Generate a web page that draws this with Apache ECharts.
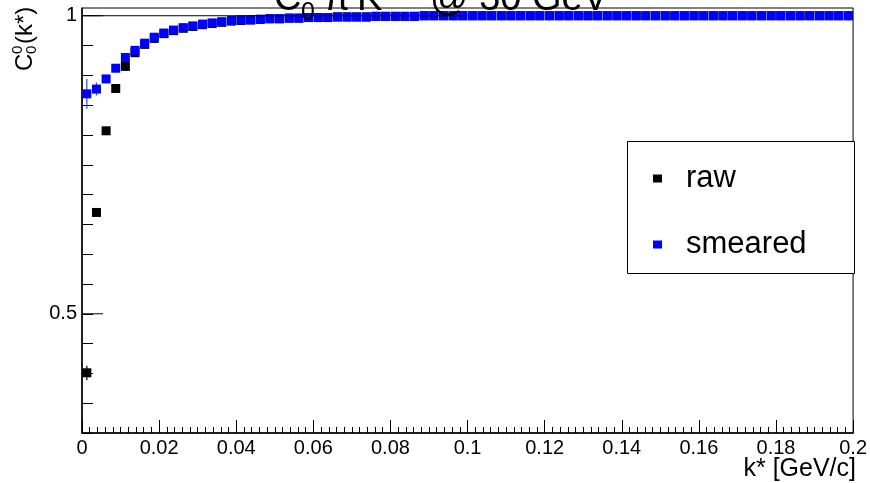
<!DOCTYPE html>
<html>
<head>
<meta charset="utf-8">
<script src="https://cdn.jsdelivr.net/npm/echarts@6/dist/echarts.min.js"></script>
<style>
html,body{margin:0;padding:0;background:#fff;}
#chart{width:870px;height:483px;}
</style>
</head>
<body>
<div id="chart"></div>
<script>
// k* bins: 80 bins of 0.0025 GeV/c from 0 to 0.2
var binWidth = 0.0025;
var rawVals = [
    0.401, 0.670, 0.807, 0.878, 0.915, 0.938, 0.952, 0.962, 0.970, 0.975,
    0.979, 0.982, 0.985, 0.987, 0.989, 0.991, 0.992, 0.993, 0.994, 0.995,
    0.995, 0.996, 0.996, 0.997, 0.997, 0.997, 0.998, 0.998, 0.998, 0.998,
    0.999, 0.999, 0.999, 0.999, 0.999, 1.000, 1.000, 1.000, 1.000, 1.000,
    1.000, 1.000, 1.000, 1.000, 1.000, 1.000, 1.000, 1.000, 1.000, 1.000,
    1.000, 1.000, 1.000, 1.000, 1.000, 1.000, 1.000, 1.000, 1.000, 1.000,
    1.000, 1.000, 1.000, 1.000, 1.000, 1.000, 1.000, 1.000, 1.000, 1.000,
    1.000, 1.000, 1.000, 1.000, 1.000, 1.000, 1.000, 1.000, 1.000, 1.000
];
var smearedVals = [
    0.869, 0.877, 0.894, 0.912, 0.930, 0.942, 0.954, 0.964, 0.971, 0.976,
    0.980, 0.983, 0.986, 0.988, 0.990, 0.992, 0.993, 0.993, 0.994, 0.995,
    0.995, 0.996, 0.996, 0.997, 0.997, 0.997, 0.998, 0.998, 0.998, 0.998,
    0.999, 0.999, 0.999, 0.999, 0.999, 1.000, 1.000, 1.000, 1.000, 1.000,
    1.000, 1.000, 1.000, 1.000, 1.000, 1.000, 1.000, 1.000, 1.000, 1.000,
    1.000, 1.000, 1.000, 1.000, 1.000, 1.000, 1.000, 1.000, 1.000, 1.000,
    1.000, 1.000, 1.000, 1.000, 1.000, 1.000, 1.000, 1.000, 1.000, 1.000,
    1.000, 1.000, 1.000, 1.000, 1.000, 1.000, 1.000, 1.000, 1.000, 1.000
];
// y errors, only the first bins are big enough to see
var rawErr = [0.012, 0.006, 0.004];
var smearedErr = [0.025, 0.011, 0.005];
// line at C=1 over the first half of the range
var refLine = [[0, 1], [0.1, 1]];
// y values with long ticks and labels
var yMajor = [0.5, 1];
var yMajorLabels = ['0.5', '1'];

var FONT = 'Liberation Sans';

function toPoints(vals) {
    return vals.map(function (v, i) { return [binWidth * (i + 0.5), v]; });
}
function toErrors(vals, errs) {
    return errs.map(function (e, i) { return [binWidth * (i + 0.5), vals[i], e]; });
}
function errRender(color) {
    return function (params, api) {
        var x = api.value(0), y = api.value(1), e = api.value(2);
        var lo = api.coord([x, y - e]), hi = api.coord([x, y + e]);
        return {
            type: 'line',
            shape: { x1: lo[0], y1: lo[1], x2: hi[0], y2: hi[1] },
            style: { stroke: color, lineWidth: 1.2 }
        };
    };
}
function txt(x, y, s, size, extra) {
    var st = { text: s, font: size + 'px ' + FONT, fill: '#000', verticalAlign: 'middle' };
    for (var k in extra || {}) st[k] = extra[k];
    return { type: 'text', x: x, y: y, z: 10, style: st };
}

var chart = echarts.init(document.getElementById('chart'));

var option = {
    animation: false,
    backgroundColor: '#fff',
    textStyle: { fontFamily: FONT },
    grid: {
        left: 82, right: 15, top: 8, bottom: 50,
        show: true, borderColor: '#000', borderWidth: 1
    },
    legend: {
        orient: 'vertical',
        left: 648, top: 158,
        z: 10,
        selectedMode: false,
        itemWidth: 9, itemHeight: 8,
        itemGap: 35,
        data: [{ name: 'raw', icon: 'rect' }, { name: 'smeared', icon: 'rect' }],
        textStyle: { fontSize: 31, lineHeight: 31, color: '#000', fontFamily: FONT, padding: [0, 0, 0, 19] }
    },
    xAxis: {
        type: 'value',
        min: 0, max: 0.2, interval: 0.02,
        axisLine: { lineStyle: { color: '#000', width: 1.5 } },
        axisTick: { inside: true, length: 13, lineStyle: { color: '#000' } },
        minorTick: { show: true, splitNumber: 10, length: 6, lineStyle: { color: '#000' } },
        splitLine: { show: false },
        axisLabel: { fontSize: 20, color: '#000', margin: 5, fontFamily: FONT }
    },
    yAxis: {
        type: 'value',
        min: 0.3, max: 1.013, interval: 0.05,
        axisLine: { show: true, lineStyle: { color: '#000', width: 1.5 } },
        axisTick: { show: true, inside: true, length: 11, lineStyle: { color: '#000' } },
        splitLine: { show: false },
        axisLabel: {
            fontSize: 20, color: '#000', margin: 5, fontFamily: FONT,
            showMaxLabel: false,
            formatter: function (v) {
                for (var i = 0; i < yMajor.length; i++) {
                    if (Math.abs(v - yMajor[i]) < 1e-6) return yMajorLabels[i];
                }
                return '';
            }
        }
    },
    graphic: [
        // title, clipped at the top of the canvas
        txt(274, 0, 'C', 38),
        txt(301, 13, '0', 25),
        txt(324, 0, 'π', 38),
        txt(346, -40, '−', 25),
        txt(357, 0, 'K', 38),
        txt(384, -40, '+', 25),
        txt(430, 0, '@ 30 GeV', 38),
        // y title C_0^0(k*)
        {
            type: 'group', x: 25, y: 71, rotation: Math.PI / 2,
            children: [
                txt(0, 0, 'C', 24),
                txt(17, -7, '0', 15),
                txt(17, 7, '0', 15),
                txt(27, 0, '(k*)', 24)
            ]
        },
        // x title
        txt(856, 469, 'k* [GeV/c]', 25, { align: 'right' }),
        // legend box
        { type: 'rect', z: 5, shape: { x: 627.5, y: 141.5, width: 227, height: 132 }, style: { fill: '#fff', stroke: '#000', lineWidth: 1 } }
    ],
    series: [
        {
            type: 'custom', renderItem: errRender('#000'), clip: false, z: 1,
            data: toErrors(rawVals, rawErr), encode: { x: 0, y: 1 }
        },
        {
            name: 'raw', type: 'scatter', symbol: 'rect', symbolSize: 9, z: 2,
            itemStyle: { color: '#000', opacity: 1 },
            data: toPoints(rawVals)
        },
        {
            type: 'custom', renderItem: errRender('#3344ff'), clip: false, z: 3,
            data: toErrors(smearedVals, smearedErr), encode: { x: 0, y: 1 }
        },
        {
            name: 'smeared', type: 'scatter', symbol: 'rect', symbolSize: 9, z: 4,
            itemStyle: { color: '#0000ff', opacity: 1 },
            data: toPoints(smearedVals)
        },
        {
            type: 'line', data: refLine, showSymbol: false, symbol: 'none', z: 6,
            lineStyle: { color: '#000', width: 1 }, silent: true
        },
        {
            // long major ticks on the y axis
            type: 'custom', clip: false, z: 6, silent: true,
            data: yMajor.map(function (v) { return [0, v]; }),
            encode: { x: 0, y: 1 },
            renderItem: function (params, api) {
                var p = api.coord([api.value(0), api.value(1)]);
                return {
                    type: 'line',
                    shape: { x1: p[0], y1: p[1], x2: p[0] + 21, y2: p[1] },
                    style: { stroke: '#000', lineWidth: 1 }
                };
            }
        }
    ]
};
chart.setOption(option);
</script>
</body>
</html>
